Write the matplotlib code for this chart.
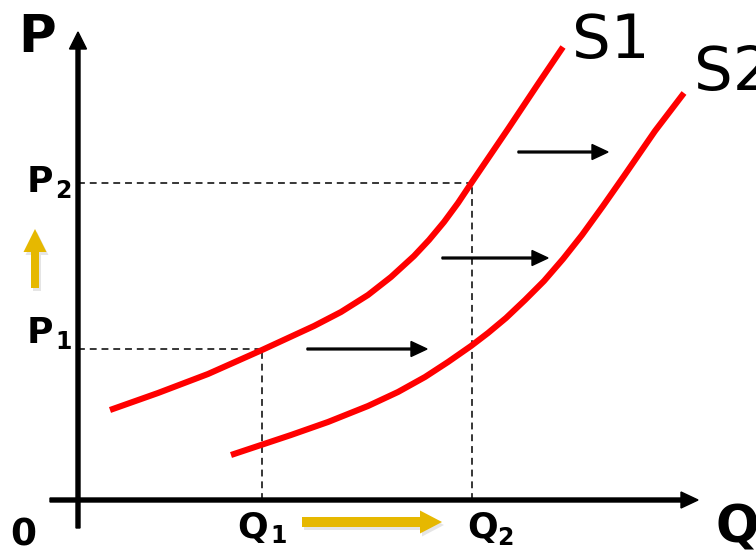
import matplotlib
matplotlib.use("Agg")
import matplotlib.pyplot as plt

# Supply curves (quantity, price) in abstract units, origin at the axes corner
s1_q = [32, 80, 130, 184, 236, 263, 290, 313, 336, 351, 366, 380, 394, 430, 460, 485]
s1_p = [90, 107, 126, 150, 174, 188, 205, 223, 244, 260, 278, 297, 318, 371, 416, 453]
s2_q = [153, 213, 250, 290, 320, 347, 370, 393, 410, 428, 447, 466, 485, 504, 525, 546, 577, 606]
s2_p = [45, 65, 78, 94, 108, 123, 138, 154, 167, 182, 200, 219, 241, 265, 294, 324, 369, 407]

q1, q2 = 184, 394
p1, p2 = 151, 317

curve_labels = ["S1", "S2"]
price_labels = ["1", "2"]

RED = "#FF0000"
YELLOW = "#E6B800"

fig = plt.figure(figsize=(7.56, 5.51), dpi=100)
ax = fig.add_axes([0, 0, 1, 1])
ax.set_xlim(-78, 678)
ax.set_ylim(-51, 500)
ax.axis("off")

# Axes with arrows
ax.arrow(0, -28, 0, 496, width=4, head_width=17, head_length=17,
         length_includes_head=True, color="black", zorder=3)
ax.arrow(-28, 0, 648, 0, width=4, head_width=16, head_length=17,
         length_includes_head=True, color="black", zorder=3)

# Dashed guide lines
dash = dict(color="black", lw=1.1, dashes=(4.5, 3.2), zorder=2)
ax.plot([0, q1], [p1, p1], **dash)
ax.plot([q1, q1], [0, p1], **dash)
ax.plot([0, q2], [p2, p2], **dash)
ax.plot([q2, q2], [0, p2], **dash)

# Supply curves
ax.plot(s1_q, s1_p, color=RED, lw=4.4, solid_capstyle="butt",
        solid_joinstyle="round", zorder=4)
ax.plot(s2_q, s2_p, color=RED, lw=4.4, solid_capstyle="butt",
        solid_joinstyle="round", zorder=4)

# Shift arrows
for (x0, y0, x1) in [(229, 151, 349), (364, 242, 470), (440, 348, 530)]:
    ax.arrow(x0, y0, x1 - x0, 0, width=1.8, head_width=15, head_length=16,
             length_includes_head=True, color="black", zorder=5)

# Yellow arrows (with faint shadow)
ax.arrow(-41, 209, 0, 59, width=8, head_width=23, head_length=23,
         length_includes_head=True, color="#999999", alpha=0.25, lw=0, zorder=1)
ax.arrow(-43, 212, 0, 59, width=8, head_width=23, head_length=23,
         length_includes_head=True, color=YELLOW, lw=0, zorder=3)
ax.arrow(226, -25, 140, 0, width=10, head_width=23, head_length=22,
         length_includes_head=True, color="#999999", alpha=0.25, lw=0, zorder=1)
ax.arrow(224, -22, 140, 0, width=10, head_width=23, head_length=22,
         length_includes_head=True, color=YELLOW, lw=0, zorder=3)

bold = dict(fontweight="bold", color="black", va="baseline", ha="left",
            family="DejaVu Sans")
# Axis titles
ax.text(-60, 448, "P", fontsize=37, **bold)
ax.text(637, -42, "Q", fontsize=37, **bold)
ax.text(-68, -45, "0", fontsize=27, **bold)

# Price labels
ax.text(-51, 308, "P", fontsize=26, **bold)
ax.text(-23, 302, price_labels[1], fontsize=17, **bold)
ax.text(-51, 157, "P", fontsize=26, **bold)
ax.text(-23, 151, price_labels[0], fontsize=17, **bold)

# Quantity labels
ax.text(159, -38, "Q", fontsize=26, **bold)
ax.text(192, -43, price_labels[0], fontsize=17, **bold)
ax.text(389, -38, "Q", fontsize=26, **bold)
ax.text(419, -45, price_labels[1], fontsize=17, **bold)

# Curve labels
ax.text(494, 442, curve_labels[0], fontsize=44, color="black",
        va="baseline", ha="left", family="DejaVu Sans")
ax.text(616, 410, curve_labels[1], fontsize=44, color="black",
        va="baseline", ha="left", family="DejaVu Sans")

fig.savefig("out.png", dpi=100)
